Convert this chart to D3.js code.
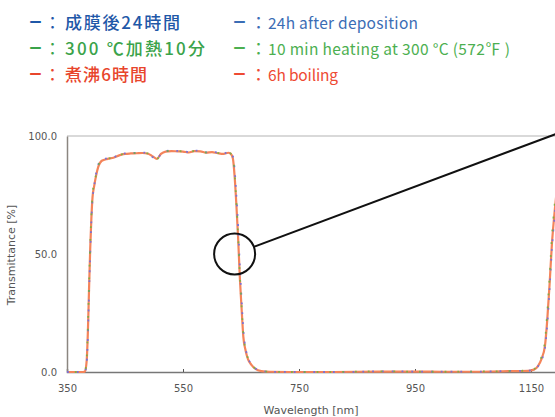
<!DOCTYPE html>
<meta charset="utf-8">
<head>
<style>
body{ margin:0; background:#fff; }
.tick text{ font-family:"DejaVu Sans"; font-size:10px; fill:#555; }
.axisTitle{ font-family:"DejaVu Sans"; font-size:11px; fill:#555; }
.legend{ font-family:"Noto Sans CJK JP"; }
</style>
</head>
<body>
<script src="https://d3js.org/d3.v7.min.js"></script>
<script>

// wavelength [nm]
var wavelength=[350,378,381,384,386,388,390,392,394,397,400,404,410,420,430,440,450,460,470,480,
	490,498,505,512,520,530,540,550,560,570,580,590,600,610,620,628,632,636,639,642,
	645,648,651,654,658,662,668,675,685,700,750,800,850,900,950,1000,1050,1100,1130,1145,
	1155,1162,1168,1174,1178,1182,1186,1190,1195,1200,1210,1220,1240,1260];

// transmittance [%] per condition
var after24h=[0,0,0.2,4,15,33,50,64,73,79,84,88,89.8,90.6,91.0,92.0,92.6,92.8,92.9,93.0,
	92.7,91.0,90.0,92.6,93.6,93.8,93.7,93.6,93.2,93.8,93.7,93.1,93.4,92.9,92.6,93.1,92.8,91.5,86,75,
	62,45,31,18,10,6,3.4,1.5,0.5,0.1,0,0,0.1,0.3,0.2,0.2,0.1,0.4,0.5,0.6,
	1.1,2.4,5,10,20,35,52,64,77,85.5,89.8,91.3,91.9,92.4];
var heat300=[0,0,0.4,6,19,37,54,66,75,80,83.5,87.5,89.6,90.4,90.9,91.9,92.5,92.7,92.8,92.9,
	92.6,91.2,90.2,92.5,93.5,93.7,93.6,93.5,93.1,93.7,93.6,93.0,93.3,92.8,92.5,93.0,92.6,90.8,84,72,
	58,41,28,16,9.5,5.8,3.2,1.4,0.5,0.1,0,0,0.2,0.3,0.1,0.1,0.2,0.3,0.5,0.6,
	1.2,3,6.5,13,25,40,57,69,80,87,90.3,91.7,92.1,92.6];
var boil6h=[0,0,0.3,5,17,35,52,65,74,79,83,87,89.5,90.3,90.8,91.8,92.4,92.6,92.7,92.8,
	92.5,91.3,90.3,92.4,93.4,93.6,93.5,93.4,93.0,93.6,93.5,92.9,93.2,92.7,92.4,92.9,92.5,90.5,83,71,
	57,40,27,15,9,5.5,3,1.3,0.4,0.1,0,0,0.1,0.2,0.2,0.1,0.1,0.3,0.4,0.5,
	1,2.5,5.5,11,22,37,54,66,78,86,90,91.5,92,92.5];

var xTicks=[350,550,750,950,1150];
var yTicks=[0,50,100];

var jpLabels=["成膜後24時間","300 ℃加熱10分","煮沸6時間"];
var enLabels=["24h after deposition","10 min heating at 300 °C (572℉ )","6h boiling"];
var jpColors=["#1f58a8","#3aa34a","#e8452c"];
var enColors=["#3b6db5","#4caf50","#ee4a33"];
var jpWidth=[115,140,82], enWidth=[150,242,70];

var svg=d3.select("body").append("svg").attr("width",555).attr("height",417);

var x=d3.scaleLinear().domain([350,1350]).range([67,647]);
var y=d3.scaleLinear().domain([0,100]).range([372,136]);

// legend: dash, colon and label per entry
var leg=svg.append("g").attr("class","legend");
function legendItem(x0,colonX,labelX,by,label,color,size,weight,w){
	leg.append("text").attr("x",x0).attr("y",by-2).attr("fill",color)
		.style("font-size","13px").style("font-weight","bold").text("ー");
	leg.append("text").attr("x",colonX).attr("y",by).attr("fill",color)
		.style("font-size","17px").text("：");
	leg.append("text").attr("x",labelX).attr("y",by).attr("fill",color)
		.attr("textLength",w).attr("lengthAdjust","spacing")
		.style("font-size",size).style("font-weight",weight).text(label);
}
jpLabels.forEach(function(t,i){
	var by=29+i*26;
	legendItem(29,44,65,by,t,jpColors[i],"17px","500",jpWidth[i]);
	legendItem(233,250,268,by,enLabels[i],enColors[i],"15.5px","400",enWidth[i]);
});

// frame
svg.append("line").attr("x1",x(350)).attr("x2",x(1350)).attr("y1",y(100)).attr("y2",y(100))
	.attr("stroke","#d9d9d9").attr("stroke-width",2);

var xAxis=svg.append("g").attr("transform","translate(0,"+y(0)+")")
	.call(d3.axisBottom(x).tickValues(xTicks).tickSize(-3).tickPadding(13).tickFormat(d3.format("d")));
xAxis.select(".domain").attr("stroke","#777").attr("stroke-width",1.5);
xAxis.selectAll(".tick line").attr("stroke","#555");

var yAxis=svg.append("g").attr("transform","translate("+x(350)+",0)")
	.call(d3.axisLeft(y).tickValues(yTicks).tickSize(0).tickPadding(10).tickFormat(d3.format(".1f")));
yAxis.select(".domain").attr("stroke","#8b8680").attr("stroke-width",1.5);

svg.append("text").attr("class","axisTitle").attr("x",311).attr("y",414)
	.attr("text-anchor","middle").text("Wavelength [nm]");
svg.append("text").attr("class","axisTitle")
	.attr("transform","translate(15,255) rotate(-90)")
	.attr("text-anchor","middle").text("Transmittance [%]");

// curves
var line=d3.line().x(function(d,i){return x(wavelength[i]);}).y(function(d){return y(d);})
	.curve(d3.curveMonotoneX);

svg.append("path").datum(boil6h).attr("d",line)
	.attr("fill","none").attr("stroke","#f4845a").attr("stroke-width",2.2);
svg.append("path").datum(after24h).attr("d",line)
	.attr("fill","none").attr("stroke","#6e6ee0").attr("stroke-width",1.8)
	.attr("stroke-dasharray","1.8,8").attr("opacity",0.9);
svg.append("path").datum(heat300).attr("d",line)
	.attr("fill","none").attr("stroke","#76b043").attr("stroke-width",1.8)
	.attr("stroke-dasharray","1.8,11").attr("stroke-dashoffset",5).attr("opacity",0.9);

// magnifier callout
var cx=x(639), cy=y(50), r=20.5;
var tx=x(1200), ty=y(101.5);
var ang=Math.atan2(ty-cy,tx-cx);
svg.append("circle").attr("cx",cx).attr("cy",cy).attr("r",r)
	.attr("fill","none").attr("stroke","#111").attr("stroke-width",2);
svg.append("line").attr("x1",cx+r*Math.cos(ang)).attr("y1",cy+r*Math.sin(ang))
	.attr("x2",tx).attr("y2",ty).attr("stroke","#111").attr("stroke-width",2);

</script>
</body>
</html>
